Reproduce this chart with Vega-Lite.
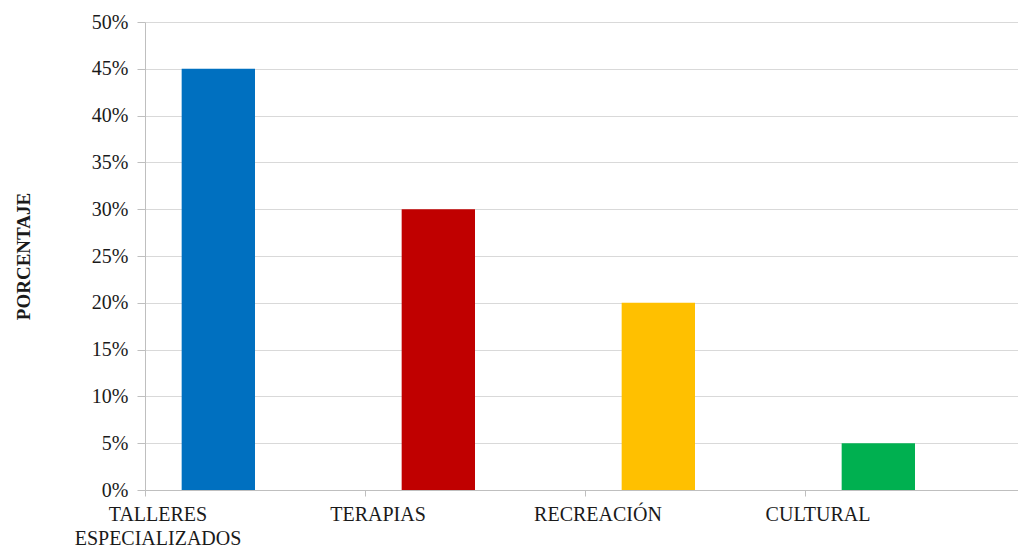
{
  "$schema": "https://vega.github.io/schema/vega-lite/v6.json",
  "autosize": {"type": "none"},
  "width": 873,
  "height": 468,
  "padding": {"left": 145, "top": 22, "right": 0, "bottom": 58},
  "background": "white",
  "config": {
    "view": {"stroke": null},
    "font": "Liberation Serif",
    "axis": {"labelFont": "Liberation Serif", "titleFont": "Liberation Serif", "labelColor": "#1a1a1a", "titleColor": "#1a1a1a"}
  },
  "data": {
    "values": [
      {"categoria": "TALLERES ESPECIALIZADOS", "serie": "A", "valor": 0.45},
      {"categoria": "TERAPIAS", "serie": "A", "valor": 0.30},
      {"categoria": "RECREACIÓN", "serie": "A", "valor": 0.20},
      {"categoria": "CULTURAL", "serie": "A", "valor": 0.05}
    ]
  },
  "mark": {"type": "bar"},
  "encoding": {
    "x": {
      "field": "categoria",
      "type": "nominal",
      "sort": null,
      "scale": {"paddingInner": 0, "paddingOuter": 0, "range": [0, 880]},
      "axis": {
        "title": null,
        "labelAngle": 0,
        "bandPosition": 0,
        "labelOffset": -97,
        "labelFontSize": 20,
        "labelPadding": 8,
        "labelLineHeight": 24,
        "labelBaseline": "top",
        "labelExpr": "datum.value == 'TALLERES ESPECIALIZADOS' ? ['TALLERES', 'ESPECIALIZADOS'] : datum.label",
        "domainColor": "#bfbfbf",
        "tickColor": "#bfbfbf",
        "tickSize": 6,
        "grid": false
      }
    },
    "xOffset": {
      "field": "serie",
      "type": "nominal",
      "scale": {"domain": ["A", "B"], "paddingInner": 0, "paddingOuter": 0.5}
    },
    "y": {
      "field": "valor",
      "type": "quantitative",
      "scale": {"domain": [0, 0.5], "nice": false},
      "axis": {
        "title": "PORCENTAJE",
        "titleFontSize": 19,
        "titleFontWeight": "bold",
        "titlePadding": 58,
        "format": ".0%",
        "values": [0, 0.05, 0.1, 0.15, 0.2, 0.25, 0.3, 0.35, 0.4, 0.45, 0.5],
        "labelFontSize": 20,
        "labelPadding": 9,
        "tickSize": 8,
        "tickColor": "#bfbfbf",
        "domainColor": "#bfbfbf",
        "gridColor": "#d9d9d9"
      }
    },
    "color": {
      "field": "categoria",
      "type": "nominal",
      "sort": null,
      "scale": {
        "domain": ["TALLERES ESPECIALIZADOS", "TERAPIAS", "RECREACIÓN", "CULTURAL"],
        "range": ["#0070C0", "#C00000", "#FFC000", "#00B050"]
      },
      "legend": null
    }
  }
}
